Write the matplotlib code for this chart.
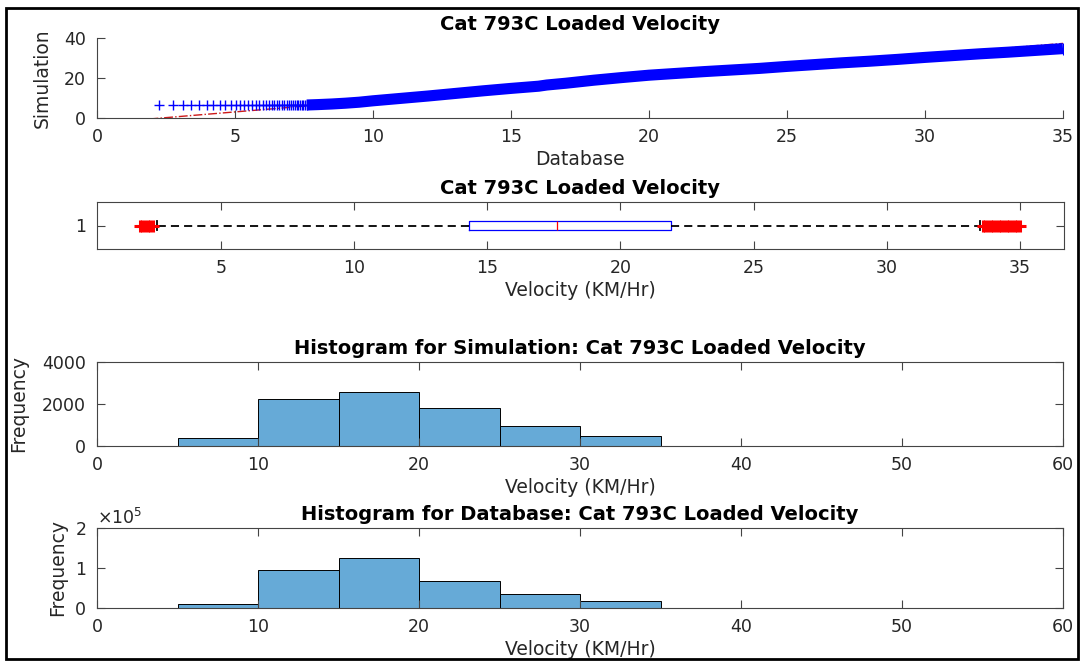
import matplotlib
matplotlib.use('Agg')
import matplotlib.pyplot as plt
import numpy as np
from matplotlib.patches import Rectangle
from matplotlib.ticker import ScalarFormatter

plt.rcParams['font.family'] = ['DejaVu Sans']

# ---------------- data ----------------
title_main = "Cat 793C Loaded Velocity"
title_hist_sim = "Histogram for Simulation: Cat 793C Loaded Velocity"
title_hist_db = "Histogram for Database: Cat 793C Loaded Velocity"
xlabel_vel = "Velocity (KM/Hr)"

# QQ plot: sparse low-end quantiles (Database vs Simulation)
qq_sparse_db = [2.26, 2.76, 3.10, 3.40, 3.70, 3.97, 4.21, 4.46, 4.65, 4.84,
                5.03, 5.18, 5.34, 5.48, 5.63, 5.76, 5.88, 6.00, 6.11, 6.22,
                6.33, 6.42, 6.51, 6.61, 6.69, 6.78, 6.87, 6.95, 7.03, 7.10,
                7.17, 7.24, 7.30, 7.36, 7.42, 7.48, 7.54, 7.60]
qq_sparse_sim = [6.5, 6.5, 6.5, 6.5, 6.5, 6.5, 6.5, 6.5, 6.5, 6.5,
                 6.5, 6.5, 6.5, 6.5, 6.5, 6.5, 6.5, 6.5, 6.5, 6.5,
                 6.5, 6.5, 6.5, 6.5, 6.5, 6.5, 6.5, 6.5, 6.5, 6.5,
                 6.5, 6.5, 6.5, 6.5, 6.5, 6.5, 6.5, 6.5]
# QQ plot: dense band of quantiles
qq_dense_db = [7.6, 8.0, 8.5, 9.0, 9.5, 10, 11, 12, 13, 14, 15, 16, 16.3, 17,
               18, 19, 20, 21, 22, 23, 24, 25, 26, 27, 28, 29, 30, 31, 32, 33,
               34, 35]
qq_dense_sim = [6.5, 6.7, 7.0, 7.4, 7.9, 8.6, 9.8, 11.0, 12.3, 13.6, 14.8,
                15.9, 16.5, 17.4, 18.9, 20.2, 21.4, 22.3, 23.2, 24.0, 24.8,
                25.8, 26.7, 27.6, 28.4, 29.3, 30.3, 31.2, 32.1, 32.9, 33.8,
                34.7]
# QQ reference line end points
qq_ref_x = [1.9, 35.0]
qq_ref_y = [-0.5, 37.3]

# Box plot statistics
box_q1 = 14.3
box_med = 17.6
box_q3 = 21.9
box_whislo = 2.6
box_whishi = 33.5
box_fliers = [1.95, 2.05, 2.15, 2.25, 2.35, 2.45,
              33.6, 33.7, 33.8, 33.9, 34.0, 34.1, 34.2, 34.3, 34.4, 34.5,
              34.6, 34.7, 34.8, 34.9, 35.0]

# Histograms
bin_edges = [5, 10, 15, 20, 25, 30, 35]
sim_counts = [400, 2230, 2560, 1800, 960, 490]
db_counts = [10000, 96000, 126000, 68000, 36000, 17000]

# ---------------- style ----------------
W, H = 1080, 661
fig = plt.figure(figsize=(W / 100, H / 100), dpi=100)

axis_col = '#444444'
text_col = '#262626'
tick_fs = 12.5
label_fs = 13.5
title_fs = 14
bar_col = (0.40, 0.667, 0.845)


def pos(left, top, right, bottom):
    return [left / W, 1 - bottom / H, (right - left) / W, (bottom - top) / H]


def style_axes(ax, box=True):
    for s in ax.spines.values():
        s.set_color(axis_col)
        s.set_linewidth(0.8)
    if not box:
        ax.spines['top'].set_visible(False)
        ax.spines['right'].set_visible(False)
    ax.tick_params(direction='in', length=6, width=0.8, color=axis_col,
                   labelcolor=text_col, labelsize=tick_fs,
                   top=box, right=box)
    ax.tick_params(axis='x', pad=7)
    ax.tick_params(axis='y', pad=8)


# ---------------- QQ plot ----------------
ax1 = fig.add_axes(pos(97, 38, 1063, 118))
ax1.plot(qq_ref_x, qq_ref_y, color=(0.8, 0.1, 0.1), lw=1.0,
         linestyle='-.', zorder=1)
ax1.plot(qq_dense_db, qq_dense_sim, color=(0, 0, 1), lw=8.0,
         solid_capstyle='butt', zorder=2)
ax1.plot(qq_sparse_db, qq_sparse_sim, linestyle='none', marker='+',
         color=(0, 0, 1), ms=7, mew=1.0, zorder=3)
ax1.plot(qq_dense_db[-1:], qq_dense_sim[-1:], linestyle='none', marker='+',
         color=(0, 0, 1), ms=9, mew=0.8, zorder=3)
ax1.set_xlim(0, 35)
ax1.set_ylim(0, 40)
ax1.set_xticks([0, 5, 10, 15, 20, 25, 30, 35])
ax1.set_yticks([0, 20, 40])
style_axes(ax1, box=False)
ax1.set_xlabel('Database', fontsize=label_fs, color=text_col, labelpad=3)
ax1.set_ylabel('Simulation', fontsize=label_fs, color=text_col)
ax1.yaxis.set_label_coords((52 - 97) / 966, 0.5)
ax1.set_title(title_main, fontsize=title_fs, fontweight='bold', pad=6)

# ---------------- Box plot ----------------
ax2 = fig.add_axes(pos(97, 202, 1064, 249))
stats = [dict(med=box_med, q1=box_q1, q3=box_q3, whislo=box_whislo,
              whishi=box_whishi, fliers=box_fliers)]
ax2.bxp(stats, positions=[1], vert=False, widths=0.18, capwidths=0.2,
        boxprops=dict(color=(0, 0, 1), lw=0.9),
        medianprops=dict(color=(1, 0, 0), lw=0.9),
        whiskerprops=dict(color='black', lw=1.3, linestyle=(0, (4.5, 2.8))),
        capprops=dict(color='black', lw=1.3),
        flierprops=dict(marker='+', markeredgecolor=(1, 0, 0),
                        markersize=8, markeredgewidth=2.2, linestyle='none'))
ax2.set_xlim(0.35, 36.65)
ax2.set_ylim(0.5, 1.5)
ax2.set_xticks([5, 10, 15, 20, 25, 30, 35])
ax2.set_yticks([1])
ax2.set_yticklabels(['1'])
style_axes(ax2, box=True)
ax2.set_xlabel(xlabel_vel, fontsize=label_fs, color=text_col, labelpad=3)
ax2.set_title(title_main, fontsize=title_fs, fontweight='bold', pad=6)

# ---------------- Histograms ----------------
widths = np.diff(bin_edges)

ax3 = fig.add_axes(pos(97, 362, 1063, 446))
ax3.bar(bin_edges[:-1], sim_counts, width=widths, align='edge',
        color=bar_col, edgecolor='black', linewidth=0.7)
ax3.set_xlim(0, 60)
ax3.set_ylim(0, 4000)
ax3.set_xticks([0, 10, 20, 30, 40, 50, 60])
ax3.set_yticks([0, 2000, 4000])
style_axes(ax3, box=True)
ax3.set_xlabel(xlabel_vel, fontsize=label_fs, color=text_col, labelpad=3)
ax3.set_ylabel('Frequency', fontsize=label_fs, color=text_col)
ax3.yaxis.set_label_coords((28 - 97) / 966, 0.5)
ax3.set_title(title_hist_sim, fontsize=title_fs, fontweight='bold', pad=6)

ax4 = fig.add_axes(pos(97, 528, 1063, 608))
ax4.bar(bin_edges[:-1], db_counts, width=widths, align='edge',
        color=bar_col, edgecolor='black', linewidth=0.7)
ax4.set_xlim(0, 60)
ax4.set_ylim(0, 200000)
ax4.set_xticks([0, 10, 20, 30, 40, 50, 60])
ax4.set_yticks([0, 100000, 200000])
fmt = ScalarFormatter(useMathText=True)
fmt.set_powerlimits((0, 0))
ax4.yaxis.set_major_formatter(fmt)
ax4.yaxis.get_offset_text().set_fontsize(tick_fs)
ax4.yaxis.get_offset_text().set_color(text_col)
style_axes(ax4, box=True)
ax4.set_xlabel(xlabel_vel, fontsize=label_fs, color=text_col, labelpad=3)
ax4.set_ylabel('Frequency', fontsize=label_fs, color=text_col)
ax4.yaxis.set_label_coords((67 - 97) / 966, 0.5)
ax4.set_title(title_hist_db, fontsize=title_fs, fontweight='bold', pad=6)

# ---------------- outer frame ----------------
fig.patches.append(Rectangle((6 / W, 2 / H), 1072 / W, 651 / H,
                             transform=fig.transFigure, fill=False,
                             edgecolor='black', linewidth=2.0))

fig.savefig('out.png', dpi=100, facecolor='white')
